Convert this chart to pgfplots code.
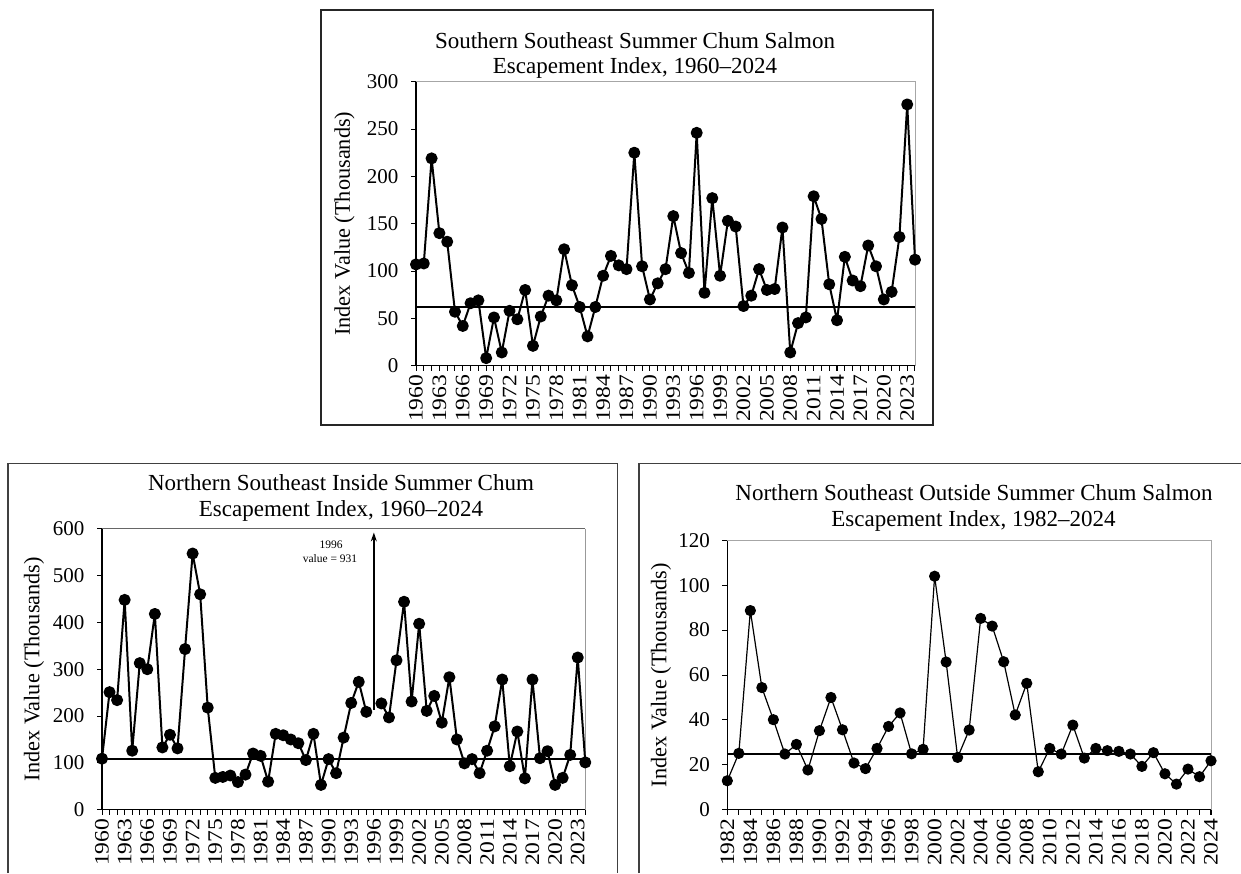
\documentclass[border=0pt]{standalone}
\usepackage{fontspec}
\setmainfont{Liberation Serif}
\usepackage{pgfplots}
\pgfplotsset{compat=1.18}
\usepackage{pgfplotstable}
\usetikzlibrary{arrows.meta}

\pgfplotstableread{
year value
1960 107
1961 108
1962 219
1963 140
1964 131
1965 57
1966 42
1967 66
1968 69
1969 8
1970 51
1971 14
1972 58
1973 49
1974 80
1975 21
1976 52
1977 74
1978 69
1979 123
1980 85
1981 62
1982 31
1983 62
1984 95
1985 116
1986 106
1987 102
1988 225
1989 105
1990 70
1991 87
1992 102
1993 158
1994 119
1995 98
1996 246
1997 77
1998 177
1999 95
2000 153
2001 147
2002 63
2003 74
2004 102
2005 80
2006 81
2007 146
2008 14
2009 45
2010 51
2011 179
2012 155
2013 86
2014 48
2015 115
2016 90
2017 84
2018 127
2019 105
2020 70
2021 78
2022 136
2023 276
2024 112
}\southern

\pgfplotstableread{
year value
1960 109
1961 251
1962 234
1963 448
1964 126
1965 313
1966 300
1967 418
1968 133
1969 160
1970 131
1971 343
1972 547
1973 460
1974 218
1975 68
1976 70
1977 73
1978 59
1979 75
1980 120
1981 115
1982 60
1983 162
1984 159
1985 150
1986 142
1987 106
1988 162
1989 53
1990 108
1991 78
1992 154
1993 228
1994 273
1995 209
1996 nan
1997 227
1998 197
1999 319
2000 444
2001 231
2002 397
2003 211
2004 243
2005 186
2006 283
2007 150
2008 99
2009 108
2010 78
2011 126
2012 178
2013 278
2014 93
2015 167
2016 67
2017 278
2018 110
2019 125
2020 53
2021 68
2022 117
2023 325
2024 101
}\inside

\pgfplotstableread{
year value
1982 12.9
1983 25.1
1984 88.7
1985 54.4
1986 40.1
1987 24.8
1988 29.1
1989 17.7
1990 35.2
1991 50.0
1992 35.6
1993 20.8
1994 18.3
1995 27.3
1996 37.1
1997 43.1
1998 24.9
1999 26.9
2000 104.0
2001 65.8
2002 23.3
2003 35.5
2004 85.2
2005 81.8
2006 65.9
2007 42.2
2008 56.3
2009 16.9
2010 27.3
2011 24.8
2012 37.7
2013 23.0
2014 27.3
2015 26.3
2016 26.0
2017 24.8
2018 19.3
2019 25.4
2020 16.0
2021 11.4
2022 18.1
2023 14.7
2024 21.8
}\outside

\pgfplotsset{chum/.style={
  scale only axis, clip=false,
  axis x line*=bottom, axis y line*=left,
  axis line style={black, line width=1.2pt},
  tick align=outside,
  major tick length=5pt, minor tick length=5pt,
  tick style={black, line width=1pt},
  yticklabel style={font=\fontsize{21}{24}\selectfont, xshift=-9pt},
  xticklabel style={font=\fontsize{20.5}{24}\selectfont, rotate=90, xscale=1.15, transform shape, anchor=east},
  /pgf/number format/assume math mode=true,
  /pgf/number format/1000 sep={},
  unbounded coords=jump,
}}

\newcommand{\tfont}{\fontsize{23}{25}\selectfont}
\newcommand{\lfont}{\fontsize{22.3}{24}\selectfont}

\begin{document}
\begin{tikzpicture}[x=1pt,y=1pt]
\useasboundingbox (0,0) rectangle (1241,-873);

% frames
\draw[black!85, line width=1.2pt] (321,-10) rectangle (933,-425);
\draw[black!75, line width=1.2pt] (8,-873) -- (8,-463.5) -- (617.7,-463.5) -- (617.7,-873);
\draw[black!75, line width=1.2pt] (639,-873) -- (639,-463.5) -- (1241,-463.5);

% ---------- top panel ----------
\begin{axis}[chum, at={(416pt,-365.7pt)}, anchor=south west,
  width=499pt, height=284pt,
  xmin=1960, xmax=2024, ymin=0, ymax=300,
  xtick={1960,1963,...,2023}, minor xtick={1960,...,2024},
  ytick={0,50,...,300}]
\draw[black!35, line width=1pt] (rel axis cs:0,1) -- (rel axis cs:1,1) -- (rel axis cs:1,0);
\addplot[black, line width=2pt] coordinates {(1960,62) (2024,62)};
\addplot[black, line width=2pt, line join=round, mark=*, mark size=5pt, mark options={solid, fill=black}] table[x=year, y=value] {\southern};
\end{axis}
\node[font=\tfont, anchor=base] at (635,-48) {Southern Southeast Summer Chum Salmon};
\node[font=\tfont, anchor=base] at (635,-73.3) {Escapement Index, 1960--2024};
\node[font=\lfont, rotate=90] at (344.5,-223.7) {Index Value (Thousands)};

% ---------- bottom left panel ----------
\begin{axis}[chum, at={(102pt,-809.7pt)}, anchor=south west,
  width=483.3pt, height=281pt,
  xmin=1960, xmax=2024, ymin=0, ymax=600,
  xtick={1960,1963,...,2023}, minor xtick={1960,...,2024},
  ytick={0,100,...,600}]
\draw[black!60, line width=1pt] (rel axis cs:0,1) -- (rel axis cs:1,1);
\draw[black!40, line width=1pt] (rel axis cs:1,1) -- (rel axis cs:1,0);
\addplot[black, line width=2pt] coordinates {(1960,108) (2024,108)};
\addplot[black, line width=2pt, line join=round, mark=*, mark size=5pt, mark options={solid, fill=black}] table[x=year, y=value] {\inside};
\draw[black, line width=1.6pt, -{Stealth[length=9pt, width=6pt]}] (axis cs:1996,213) -- (axis cs:1996,592);
\end{axis}
\node[font=\fontsize{11.5}{13}\selectfont, anchor=base] at (331,-548) {1996};
\node[font=\fontsize{11.5}{13}\selectfont, anchor=base] at (330,-562.7) {value = 931};
\node[font=\tfont, anchor=base] at (341,-490) {Northern Southeast Inside Summer Chum};
\node[font=\tfont, anchor=base] at (341,-516.7) {Escapement Index, 1960--2024};
\node[font=\lfont, rotate=90] at (34,-669) {Index Value (Thousands)};

% ---------- bottom right panel ----------
\begin{axis}[chum, at={(727.3pt,-809.7pt)}, anchor=south west,
  width=483.7pt, height=269.4pt,
  xmin=1982, xmax=2024, ymin=0, ymax=120,
  xtick={1982,1984,...,2024}, minor xtick={1982,...,2024},
  ytick={0,20,...,120}]
\draw[black!35, line width=1pt] (rel axis cs:0,1) -- (rel axis cs:1,1) -- (rel axis cs:1,0);
\addplot[black, line width=1.3pt] coordinates {(1982,24.8) (2024,24.8)};
\addplot[black, line width=1.2pt, line join=round, mark=*, mark size=5pt, mark options={solid, fill=black}] table[x=year, y=value] {\outside};
\end{axis}
\node[font=\tfont, anchor=base] at (974,-500) {Northern Southeast Outside Summer Chum Salmon};
\node[font=\tfont, anchor=base] at (973.5,-526.7) {Escapement Index, 1982--2024};
\node[font=\lfont, rotate=90] at (661,-675) {Index Value (Thousands)};
\end{tikzpicture}
\end{document}
